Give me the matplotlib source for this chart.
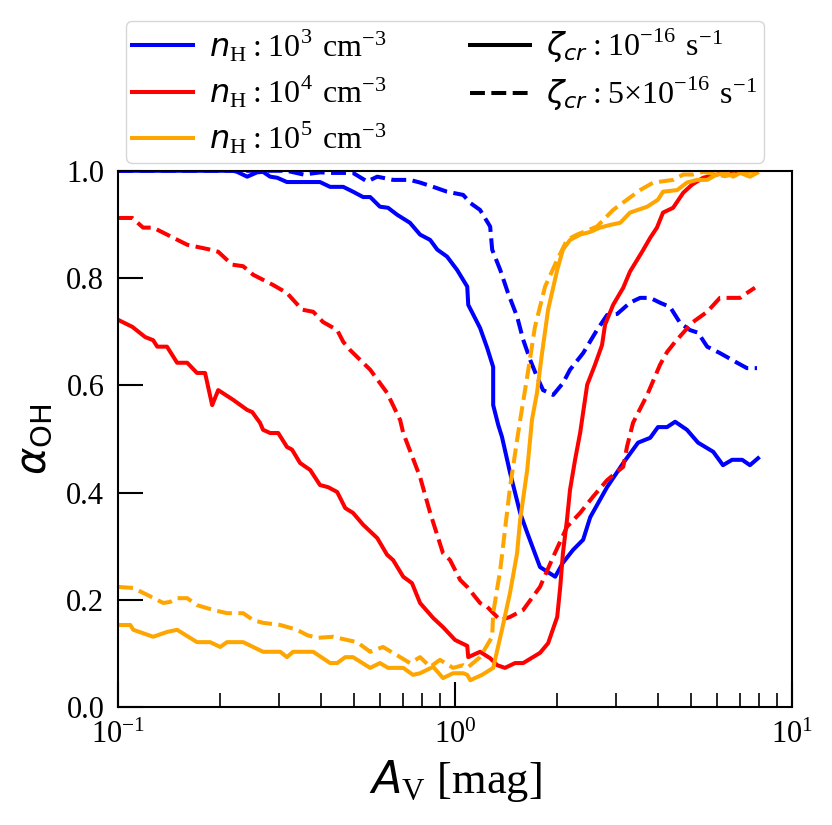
import numpy as np
import matplotlib
matplotlib.use("Agg")
import matplotlib.pyplot as plt
from matplotlib.lines import Line2D

plt.rcParams['font.family'] = ['Liberation Serif', 'DejaVu Serif']
plt.rcParams['mathtext.fontset'] = 'custom'
plt.rcParams['mathtext.rm'] = 'Liberation Serif'
plt.rcParams['mathtext.it'] = 'DejaVu Sans:italic'
plt.rcParams['mathtext.sf'] = 'DejaVu Sans'

# x positions are read in decades along the log axis: log10(A_V)
# n_H = 1e3, zeta = 1e-16
logav_b_solid = [-1.0, -0.659, -0.647, -0.617, -0.588, -0.57, -0.549, -0.528, -0.499, -0.401,
                 -0.371, -0.332, -0.303, -0.273, -0.252, -0.223, -0.199, -0.172, -0.134, -0.104,
                 -0.074, -0.053, -0.024, 0.006, 0.036, 0.039, 0.074, 0.095, 0.113, 0.113,
                 0.128, 0.139, 0.163, 0.193, 0.214, 0.252, 0.297, 0.32, 0.35, 0.38,
                 0.401, 0.451, 0.499, 0.543, 0.579, 0.602, 0.629, 0.653, 0.688, 0.721,
                 0.766, 0.795, 0.822, 0.852, 0.875, 0.899]
alpha_b_solid = [1.0, 1.0, 0.998, 0.989, 0.997, 0.998, 0.989, 0.987, 0.979, 0.979,
                 0.97, 0.97, 0.961, 0.951, 0.951, 0.933, 0.931, 0.918, 0.903, 0.881,
                 0.871, 0.853, 0.84, 0.815, 0.784, 0.75, 0.707, 0.67, 0.634, 0.563,
                 0.526, 0.504, 0.437, 0.362, 0.325, 0.261, 0.243, 0.269, 0.293, 0.312,
                 0.354, 0.41, 0.455, 0.493, 0.502, 0.522, 0.522, 0.532, 0.517, 0.493,
                 0.476, 0.451, 0.461, 0.461, 0.451, 0.464]

# n_H = 1e3, zeta = 5e-16
logav_b_dash = [-1.0, -0.5, -0.45, -0.4, -0.362, -0.303, -0.261, -0.231, -0.184, -0.134,
                -0.104, -0.065, -0.024, 0.024, 0.045, 0.074, 0.104, 0.11, 0.134, 0.157,
                0.184, 0.202, 0.223, 0.243, 0.261, 0.291, 0.32, 0.341, 0.38, 0.421,
                0.451, 0.481, 0.519, 0.549, 0.579, 0.608, 0.638, 0.668, 0.697, 0.721,
                0.748, 0.786, 0.837, 0.866, 0.896]
alpha_b_dash = [1.0, 1.0, 0.993, 0.997, 0.996, 0.996, 0.98, 0.989, 0.983, 0.983,
                0.978, 0.97, 0.961, 0.955, 0.94, 0.927, 0.896, 0.853, 0.815, 0.772,
                0.728, 0.685, 0.647, 0.616, 0.591, 0.582, 0.604, 0.629, 0.66, 0.703,
                0.731, 0.733, 0.754, 0.763, 0.763, 0.754, 0.746, 0.716, 0.703, 0.698,
                0.672, 0.66, 0.642, 0.632, 0.632]

# n_H = 1e4, zeta = 1e-16
logav_r_solid = [-1.0, -0.958, -0.92, -0.896, -0.884, -0.855, -0.825, -0.795, -0.766, -0.742,
                 -0.721, -0.703, -0.659, -0.617, -0.602, -0.579, -0.57, -0.549, -0.525, -0.499,
                 -0.484, -0.46, -0.43, -0.401, -0.377, -0.35, -0.326, -0.303, -0.273, -0.231,
                 -0.202, -0.184, -0.154, -0.128, -0.104, -0.065, -0.036, 0.0, 0.036, 0.039,
                 0.074, 0.104, 0.125, 0.148, 0.178, 0.202, 0.252, 0.276, 0.303, 0.312,
                 0.32, 0.332, 0.341, 0.356, 0.371, 0.392, 0.415, 0.436, 0.445, 0.469,
                 0.499, 0.519, 0.555, 0.579, 0.599, 0.617, 0.647, 0.677, 0.703, 0.736,
                 0.777, 0.807, 0.846, 0.896]
alpha_r_solid = [0.722, 0.709, 0.69, 0.684, 0.672, 0.672, 0.642, 0.642, 0.623, 0.623,
                 0.563, 0.591, 0.573, 0.554, 0.55, 0.53, 0.517, 0.511, 0.511, 0.485,
                 0.48, 0.455, 0.442, 0.414, 0.41, 0.401, 0.371, 0.362, 0.34, 0.315,
                 0.284, 0.274, 0.243, 0.231, 0.194, 0.166, 0.149, 0.125, 0.114, 0.093,
                 0.103, 0.091, 0.078, 0.073, 0.082, 0.082, 0.101, 0.119, 0.168, 0.224,
                 0.287, 0.349, 0.405, 0.461, 0.511, 0.601, 0.638, 0.675, 0.713, 0.75,
                 0.782, 0.812, 0.849, 0.875, 0.894, 0.922, 0.931, 0.959, 0.974, 0.987,
                 0.993, 0.998, 1.0, 1.0]

# n_H = 1e4, zeta = 5e-16
logav_r_dash = [-1.0, -0.958, -0.926, -0.896, -0.795, -0.727, -0.703, -0.662, -0.629, -0.599,
                -0.54, -0.499, -0.454, -0.421, -0.392, -0.35, -0.332, -0.312, -0.252, -0.202,
                -0.163, -0.154, -0.104, -0.074, -0.036, -0.015, 0.015, 0.036, 0.074, 0.095,
                0.134, 0.163, 0.202, 0.252, 0.291, 0.332, 0.371, 0.409, 0.451, 0.499,
                0.51, 0.528, 0.57, 0.608, 0.629, 0.653, 0.677, 0.706, 0.748, 0.786,
                0.846, 0.861, 0.89]
alpha_r_dash = [0.912, 0.912, 0.894, 0.894, 0.862, 0.853, 0.849, 0.825, 0.822, 0.806,
                0.787, 0.772, 0.741, 0.737, 0.718, 0.703, 0.681, 0.666, 0.629, 0.586,
                0.535, 0.511, 0.429, 0.362, 0.287, 0.274, 0.237, 0.224, 0.194, 0.187,
                0.162, 0.168, 0.181, 0.224, 0.28, 0.336, 0.362, 0.392, 0.423, 0.448,
                0.485, 0.53, 0.582, 0.638, 0.662, 0.681, 0.698, 0.718, 0.737, 0.763,
                0.763, 0.77, 0.782]

# n_H = 1e5, zeta = 1e-16
logav_o_solid = [-1.0, -0.964, -0.955, -0.896, -0.855, -0.825, -0.766, -0.727, -0.697, -0.677,
                 -0.629, -0.57, -0.519, -0.499, -0.481, -0.421, -0.371, -0.35, -0.326, -0.303,
                 -0.252, -0.223, -0.199, -0.154, -0.125, -0.104, -0.065, -0.036, -0.006, 0.024,
                 0.036, 0.045, 0.08, 0.113, 0.139, 0.163, 0.184, 0.193, 0.214, 0.228,
                 0.243, 0.258, 0.276, 0.303, 0.32, 0.341, 0.371, 0.401, 0.43, 0.46,
                 0.49, 0.519, 0.57, 0.602, 0.617, 0.659, 0.688, 0.718, 0.748, 0.777,
                 0.807, 0.825, 0.846, 0.875, 0.896]
alpha_o_solid = [0.153, 0.153, 0.144, 0.131, 0.14, 0.144, 0.121, 0.121, 0.112, 0.121,
                 0.121, 0.103, 0.103, 0.093, 0.103, 0.103, 0.082, 0.082, 0.093, 0.093,
                 0.073, 0.082, 0.073, 0.073, 0.06, 0.063, 0.075, 0.054, 0.063, 0.063,
                 0.06, 0.05, 0.06, 0.073, 0.144, 0.213, 0.287, 0.349, 0.442, 0.535,
                 0.586, 0.66, 0.741, 0.815, 0.853, 0.871, 0.881, 0.886, 0.894, 0.899,
                 0.903, 0.922, 0.933, 0.946, 0.961, 0.964, 0.978, 0.983, 0.983, 0.993,
                 0.996, 0.989, 0.996, 0.989, 0.996]

# n_H = 1e5, zeta = 5e-16
logav_o_dash = [-1.0, -0.955, -0.926, -0.866, -0.846, -0.825, -0.795, -0.766, -0.718, -0.677,
                -0.629, -0.599, -0.57, -0.519, -0.469, -0.439, -0.409, -0.362, -0.32, -0.291,
                -0.252, -0.214, -0.184, -0.134, -0.104, -0.074, -0.045, -0.006, 0.024, 0.036,
                0.074, 0.11, 0.113, 0.134, 0.163, 0.184, 0.193, 0.214, 0.237, 0.267,
                0.303, 0.332, 0.362, 0.421, 0.469, 0.51, 0.549, 0.588, 0.647, 0.677,
                0.706, 0.736, 0.8, 0.85, 0.896]
alpha_o_dash = [0.224, 0.222, 0.213, 0.194, 0.196, 0.203, 0.203, 0.19, 0.181, 0.175,
                0.175, 0.162, 0.157, 0.153, 0.144, 0.134, 0.129, 0.131, 0.125, 0.121,
                0.103, 0.112, 0.101, 0.082, 0.093, 0.075, 0.088, 0.073, 0.078, 0.073,
                0.093, 0.131, 0.175, 0.256, 0.41, 0.498, 0.535, 0.616, 0.709, 0.784,
                0.834, 0.871, 0.881, 0.896, 0.927, 0.946, 0.964, 0.978, 0.983, 0.993,
                0.993, 0.998, 0.99, 0.996, 1.0]

density_labels = [r'$n_{\rm H}: 10^3\ {\rm cm^{-3}}$',
                  r'$n_{\rm H}: 10^4\ {\rm cm^{-3}}$',
                  r'$n_{\rm H}: 10^5\ {\rm cm^{-3}}$']
zeta_labels = [r'$\zeta_{cr}: 10^{-16}\ {\rm s^{-1}}$',
               r'$\zeta_{cr}: 5{\times}10^{-16}\ {\rm s^{-1}}$']
colors = ['blue', 'red', 'orange']

series = [
    (logav_b_solid, alpha_b_solid, colors[0], '-'),
    (logav_b_dash, alpha_b_dash, colors[0], '--'),
    (logav_r_solid, alpha_r_solid, colors[1], '-'),
    (logav_r_dash, alpha_r_dash, colors[1], '--'),
    (logav_o_solid, alpha_o_solid, colors[2], '-'),
    (logav_o_dash, alpha_o_dash, colors[2], '--'),
]

fig = plt.figure(figsize=(8.32, 8.25), dpi=100)
ax = fig.add_axes([0.142, 0.143, 0.81, 0.65])

lw = 2.9
for logav, alpha, c, ls in series:
    ax.plot(10 ** np.asarray(logav), alpha, color=c, ls=ls, lw=lw)

ax.set_xscale('log')
ax.set_xlim(0.1, 10)
ax.set_ylim(0, 1)
ax.set_yticks([0.0, 0.2, 0.4, 0.6, 0.8, 1.0])
ax.tick_params(which='major', direction='in', length=18, width=1.5, labelsize=22, pad=10)
ax.tick_params(which='minor', direction='in', length=10, width=1.2)
for sp in ax.spines.values():
    sp.set_linewidth(1.5)

ax.set_xlabel(r'$A_{\rm V}$ [mag]', fontsize=32, labelpad=6)
ax.set_ylabel(r'$\alpha_{\mathsf{OH}}$', fontsize=30, labelpad=8)

handles = [Line2D([], [], color=colors[0], lw=lw),
           Line2D([], [], color=colors[1], lw=lw),
           Line2D([], [], color=colors[2], lw=lw),
           Line2D([], [], color='black', lw=lw, ls='-'),
           Line2D([], [], color='black', lw=lw, ls='--'),
           ]
labels = density_labels + zeta_labels
leg = ax.legend(handles, labels, ncol=2, loc='lower center', bbox_to_anchor=(0.485, 1.0),
                fontsize=23, handlelength=1.9, handletextpad=0.5, columnspacing=2.6,
                labelspacing=0.3, borderpad=0.2, borderaxespad=0.25, frameon=True)
leg.get_frame().set_edgecolor('#cccccc')

fig.savefig('out.png', dpi=100)
